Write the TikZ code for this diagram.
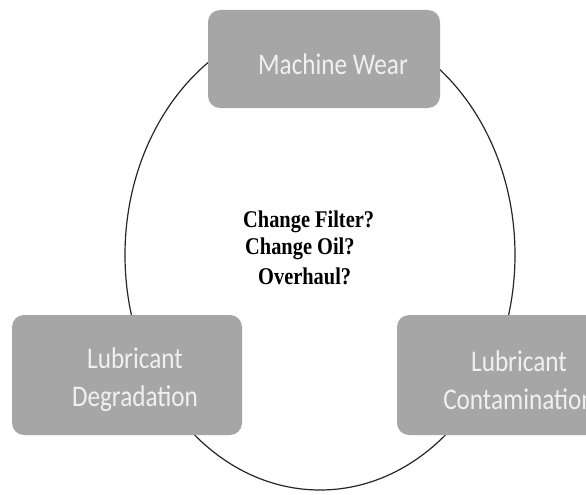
\documentclass[tikz,border=0pt]{standalone}
\usepackage{fontspec}
\setmainfont{Liberation Serif}
\newfontfamily\boxfont[FakeStretch=0.84]{Carlito}
\newfontfamily\qfont[FakeStretch=0.85]{Liberation Serif}
\definecolor{boxgray}{HTML}{A6A6A6}
\definecolor{boxtext}{HTML}{F0F0F0}
\begin{document}
\begin{tikzpicture}[x=1pt,y=-1pt,
  card/.style={fill=boxgray, rounded corners=12pt, inner sep=0pt},
  cardtext/.style={font=\boxfont\fontsize{30}{38}\selectfont, text=boxtext, align=center},
  qtext/.style={font=\qfont\bfseries\fontsize{24}{27}\selectfont, anchor=west, inner sep=0pt}]
\useasboundingbox (0,0) rectangle (586,495);
\fill[white] (0,0) rectangle (586,495);
\draw[line width=1.2pt, black!85] (320,255) ellipse [x radius=195, y radius=235];
\node[card, minimum width=232pt, minimum height=98pt] (wear) at (324,59) {};
\node[cardtext] (weartxt) at (333,64) {Machine Wear};
\node[card, minimum width=230pt, minimum height=120pt] (degr) at (127,375) {};
\node[cardtext] (degrtxt) at (135,380) {Lubricant\\Degradation};
\node[card, minimum width=244pt, minimum height=120pt] (cont) at (519,375) {};
\node[cardtext] (conttxt) at (519,380) {Lubricant\\Contamination};
\node[qtext] (q1) at (243,222) {Change Filter?};
\node[qtext] (q2) at (245,249) {Change Oil?};
\node[qtext] (q3) at (258,276) {Overhaul?};
\end{tikzpicture}
\end{document}
